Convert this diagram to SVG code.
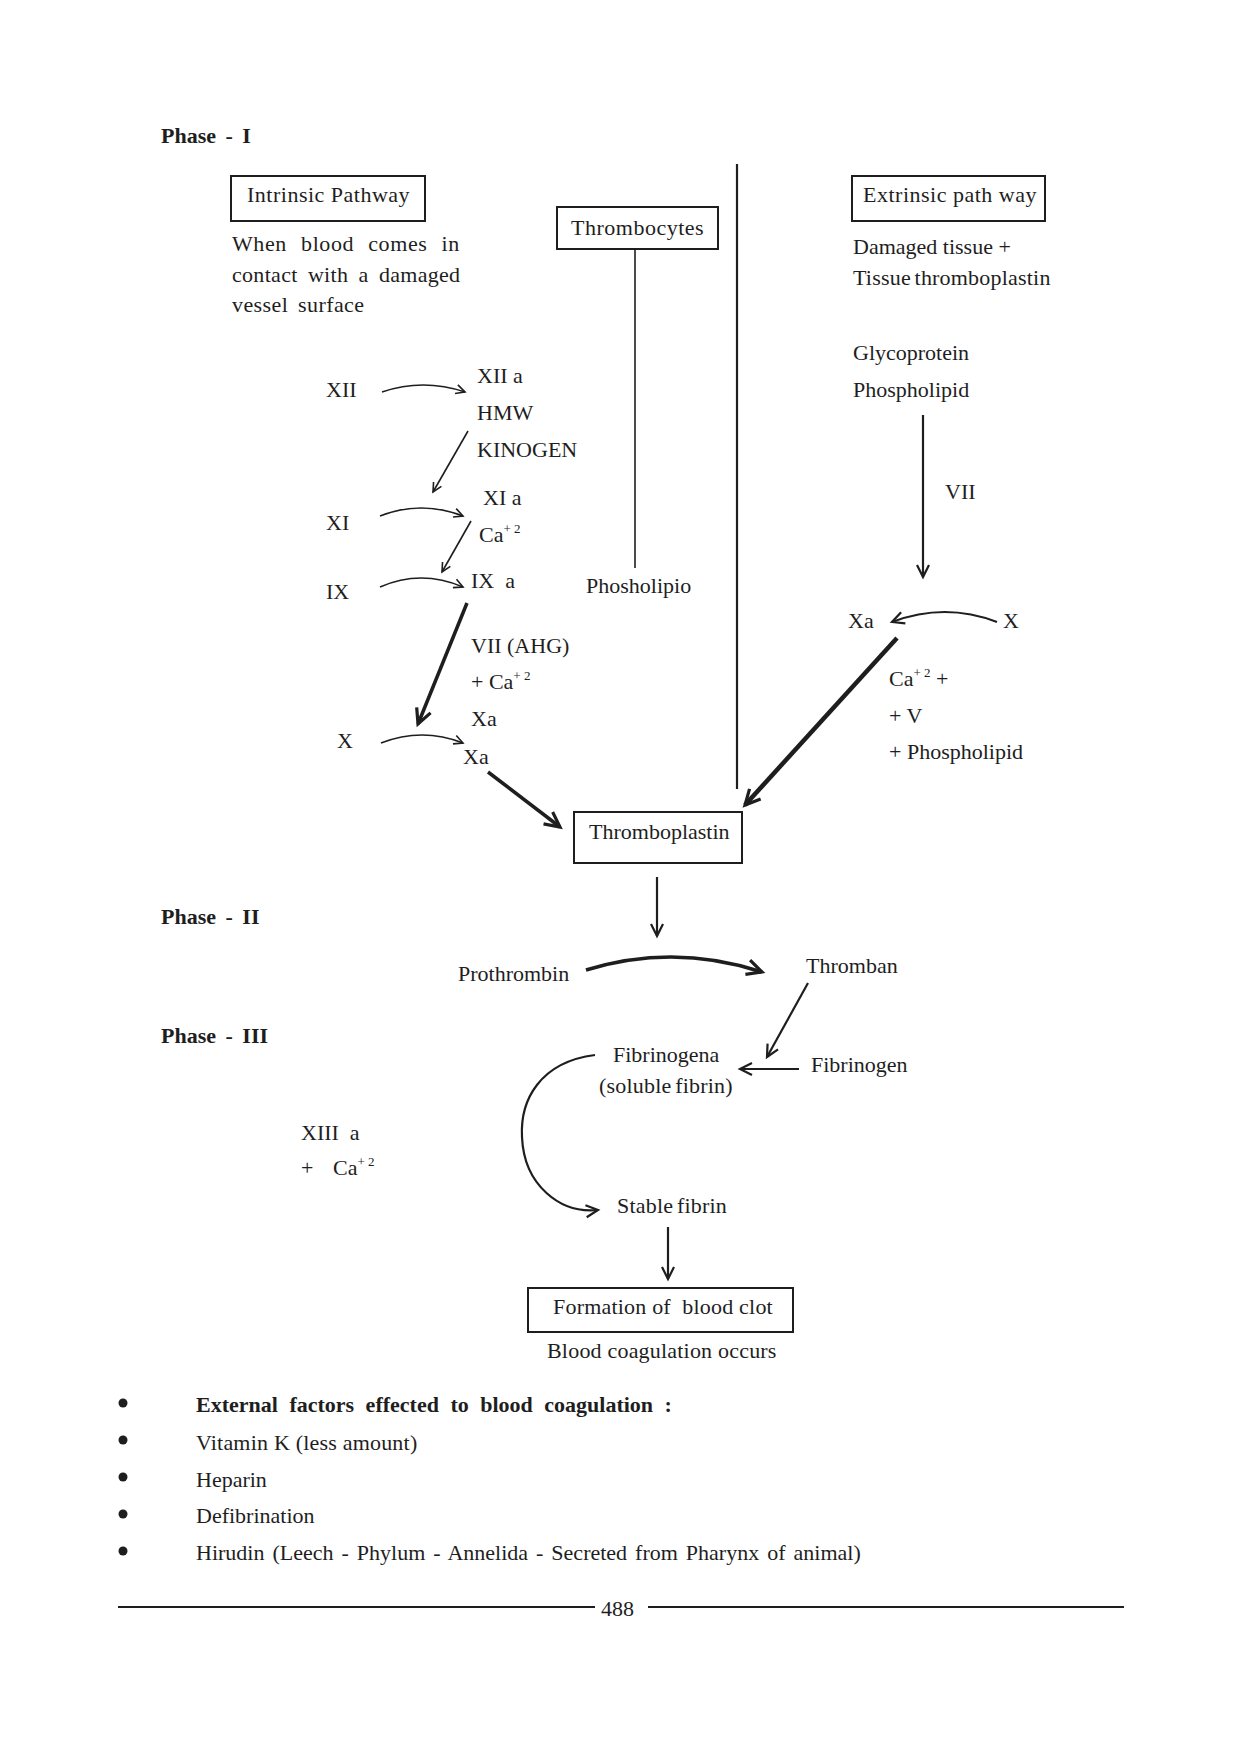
<svg xmlns="http://www.w3.org/2000/svg" width="1240" height="1755" viewBox="0 0 1240 1755">
<style>
text{font-family:"Liberation Serif","Times New Roman",serif;font-size:22px;fill:#1e1e1e}
.b{font-weight:bold;word-spacing:4px}
.sup{font-size:13px}
.bt{letter-spacing:0.5px}
.box{fill:none;stroke:#1e1e1e;stroke-width:2}
.ln{fill:none;stroke:#1e1e1e;stroke-width:1.6}
.th{fill:none;stroke:#1e1e1e;stroke-width:3.5}
.md{fill:none;stroke:#1e1e1e;stroke-width:2.2}
.rule{stroke:#1e1e1e;stroke-width:2}
</style>
<defs>
<marker id="ah" markerUnits="userSpaceOnUse" markerWidth="14" markerHeight="14" refX="11" refY="6" orient="auto">
<path d="M2,1.5 L11,6 L2,10.5" fill="none" stroke="#1e1e1e" stroke-width="1.6"/>
</marker>
<marker id="ahm" markerUnits="userSpaceOnUse" markerWidth="18" markerHeight="18" refX="14" refY="8" orient="auto">
<path d="M2,2 L14,8 L2,14" fill="none" stroke="#1e1e1e" stroke-width="2.2"/>
</marker>
<marker id="ahb" markerUnits="userSpaceOnUse" markerWidth="22" markerHeight="22" refX="17" refY="10" orient="auto">
<path d="M2,2.5 L17,10 L2,17.5" fill="none" stroke="#1e1e1e" stroke-width="3.2"/>
</marker>
</defs>

<g id="phase1"><text class="b" x="161" y="143">Phase - I</text></g>
<g id="phase2"><text class="b" x="161" y="924">Phase - II</text></g>
<g id="phase3"><text class="b" x="161" y="1043">Phase - III</text></g>

<g id="intrinsic">
<rect class="box" x="231" y="176" width="194" height="45"/>
<text class="bt" x="247" y="202">Intrinsic Pathway</text>
</g>
<g id="intrinsic-desc">
<text x="232" y="251" word-spacing="8" letter-spacing="0.6">When blood comes in</text>
<text x="232" y="282" word-spacing="4.5" letter-spacing="0.3">contact with a damaged</text>
<text x="232" y="312" word-spacing="4" letter-spacing="0.4">vessel surface</text>
</g>

<g id="thrombocytes">
<rect class="box" x="557" y="207" width="161" height="42"/>
<text class="bt" x="571" y="235">Thrombocytes</text>
</g>

<g id="extrinsic">
<rect class="box" x="852" y="176" width="193" height="45"/>
<text class="bt" x="863" y="202">Extrinsic path way</text>
</g>
<g id="extrinsic-desc">
<text x="853" y="254">Damaged tissue +</text>
<text x="853" y="285" word-spacing="-2" letter-spacing="0.2">Tissue thromboplastin</text>
</g>
<g id="glyco">
<text x="853" y="360">Glycoprotein</text>
<text x="853" y="397">Phospholipid</text>
</g>

<g id="f-XII"><text x="326" y="397">XII</text></g>
<g id="f-XIIa"><text x="477" y="383">XII a</text><text x="477" y="420">HMW</text><text x="477" y="457">KINOGEN</text></g>
<g id="f-XI"><text x="326" y="530">XI</text></g>
<g id="f-XIa"><text x="483" y="505">XI a</text><text x="479" y="542">Ca<tspan class="sup" dy="-9" xml:space="preserve">+ 2</tspan></text></g>
<g id="f-IX"><text x="326" y="599">IX</text></g>
<g id="f-IXa"><text x="471" y="588" xml:space="preserve">IX  a</text></g>
<g id="f-VII"><text x="471" y="653">VII (AHG)</text><text x="471" y="689">+ Ca<tspan class="sup" dy="-9">+ 2</tspan></text><text x="471" y="726">Xa</text></g>
<g id="f-X"><text x="337" y="748">X</text></g>
<g id="f-Xa"><text x="463" y="764">Xa</text></g>
<g id="phospholipio"><text x="586" y="593">Phosholipio</text></g>

<g id="ext-VII"><text x="945" y="499">VII</text></g>
<g id="ext-Xa"><text x="848" y="628">Xa</text></g>
<g id="ext-X"><text x="1003" y="628">X</text></g>
<g id="ext-cofactors">
<text x="889" y="686">Ca<tspan class="sup" dy="-9">+ 2</tspan><tspan dy="9"> +</tspan></text>
<text x="889" y="723">+ V</text>
<text x="889" y="759">+ Phospholipid</text>
</g>

<g id="thromboplastin">
<rect class="box" x="574" y="812" width="168" height="51"/>
<text x="589" y="839">Thromboplastin</text>
</g>

<g id="prothrombin"><text x="458" y="981">Prothrombin</text></g>
<g id="thromban"><text x="806" y="973">Thromban</text></g>
<g id="fibrinogena"><text x="613" y="1062">Fibrinogena</text><text x="599" y="1093" word-spacing="-2" letter-spacing="0.2">(soluble fibrin)</text></g>
<g id="fibrinogen"><text x="811" y="1072">Fibrinogen</text></g>
<g id="xiii"><text x="301" y="1140" xml:space="preserve">XIII  a</text><text x="301" y="1175">+</text><text x="333" y="1175">Ca<tspan class="sup" dy="-9">+ 2</tspan></text></g>
<g id="stable"><text x="617" y="1213" word-spacing="-2" letter-spacing="0.2">Stable fibrin</text></g>
<g id="clot">
<rect class="box" x="528" y="1288" width="265" height="44"/>
<text x="553" y="1314" xml:space="preserve" letter-spacing="0.2">Formation of  blood clot</text>
</g>
<g id="occurs"><text x="547" y="1358" letter-spacing="0.2">Blood coagulation occurs</text></g>

<g id="connectors">
<line class="ln" x1="635" y1="249" x2="635" y2="568"/>
<line class="md" x1="737" y1="164" x2="737" y2="789"/>
<path class="ln" d="M382,392 Q423,378 465,392" marker-end="url(#ah)"/>
<path class="ln" d="M468,431 L433,492" marker-end="url(#ah)"/>
<path class="ln" d="M380,516 Q421,500 463,516" marker-end="url(#ah)"/>
<path class="ln" d="M471,521 L442,572" marker-end="url(#ah)"/>
<path class="ln" d="M380,587 Q421,569 463,587" marker-end="url(#ah)"/>
<path class="th" d="M467,603 L418,724" marker-end="url(#ahb)"/>
<path class="ln" d="M381,743 Q422,727 463,743" marker-end="url(#ah)"/>
<path class="th" d="M488,772 L560,827" marker-end="url(#ahb)"/>
<path class="md" d="M923,415 L923,577" marker-end="url(#ahm)"/>
<path class="md" d="M997,622 Q945,602 892,622" marker-end="url(#ahm)"/>
<path class="th" d="M897,638 L745,805" marker-end="url(#ahb)" style="stroke-width:4.5"/>
<path class="md" d="M657,877 L657,936" marker-end="url(#ahm)"/>
<path class="th" d="M586,970 Q674,943 762,972" marker-end="url(#ahb)"/>
<path class="md" d="M808,983 L767,1057" marker-end="url(#ahm)"/>
<path class="md" d="M799,1069 L740,1069" marker-end="url(#ahm)"/>
<path class="md" d="M595,1055 C540,1062 520,1100 522,1137 C524,1185 560,1214 598,1210" marker-end="url(#ahm)"/>
<path class="md" d="M668,1227 L668,1279" marker-end="url(#ahm)"/>
</g>

<g id="factors">
<circle cx="123" cy="1403" r="4.5" fill="#1e1e1e"/>
<circle cx="123" cy="1440" r="4.5" fill="#1e1e1e"/>
<circle cx="123" cy="1477" r="4.5" fill="#1e1e1e"/>
<circle cx="123" cy="1514" r="4.5" fill="#1e1e1e"/>
<circle cx="123" cy="1551" r="4.5" fill="#1e1e1e"/>
<text class="b" x="196" y="1412" style="word-spacing:6px">External factors effected to blood coagulation :</text>
<text x="196" y="1450" letter-spacing="0.2">Vitamin K (less amount)</text>
<text x="196" y="1487">Heparin</text>
<text x="196" y="1523">Defibrination</text>
<text x="196" y="1560" word-spacing="2.5">Hirudin (Leech - Phylum - Annelida - Secreted from Pharynx of animal)</text>
</g>

<g id="footer">
<line class="rule" x1="118" y1="1607" x2="595" y2="1607"/>
<text x="601" y="1616">488</text>
<line class="rule" x1="648" y1="1607" x2="1124" y2="1607"/>
</g>
</svg>
